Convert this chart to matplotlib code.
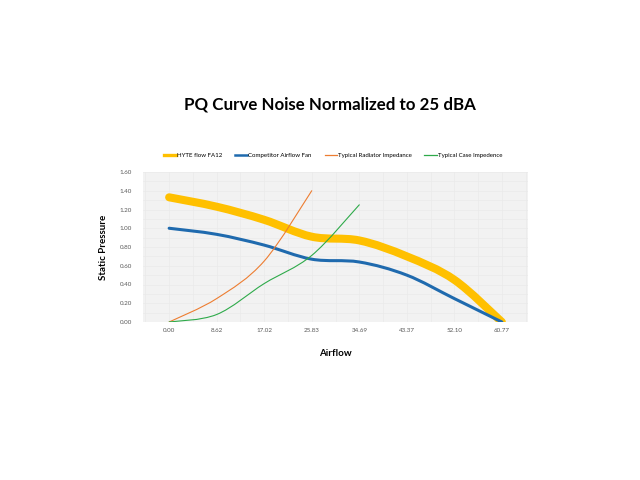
import matplotlib
matplotlib.use("Agg")
import matplotlib.pyplot as plt
from matplotlib.path import Path
from matplotlib.patches import PathPatch
from matplotlib.lines import Line2D
import numpy as np

plt.rcParams['font.family'] = ['Lato', 'DejaVu Sans']

categories = ["0.00", "8.62", "17.02", "25.83", "34.69", "43.37", "52.10", "60.77"]
hyte = [1.33, 1.23, 1.09, 0.91, 0.87, 0.70, 0.45, 0.00]
competitor = [1.00, 0.935, 0.82, 0.67, 0.64, 0.50, 0.25, 0.00]
radiator = [0.00, 0.25, 0.65, 1.40]
case = [0.00, 0.08, 0.41, 0.71, 1.25]

names = ["HYTE flow FA12", "Competitor Airflow Fan", "Typical Radiator Impedance", "Typical Case Impedence"]
colors = ["#FFC000", "#1F6AAE", "#ED7D31", "#2EAA4A"]
widths = [5.8, 2.2, 0.8, 0.8]


def smooth_path(xs, ys):
    pts = np.column_stack([xs, ys]).astype(float)
    n = len(pts)
    verts = [pts[0]]
    codes = [Path.MOVETO]
    for i in range(n - 1):
        p0 = pts[i - 1] if i > 0 else pts[i]
        p1 = pts[i]
        p2 = pts[i + 1]
        p3 = pts[i + 2] if i + 2 < n else pts[i + 1]
        c1 = p1 + (p2 - p0) / 6.0
        c2 = p2 - (p3 - p1) / 6.0
        verts += [c1, c2, p2]
        codes += [Path.CURVE4] * 3
    return Path(verts, codes)


fig = plt.figure(figsize=(6.4, 4.8), dpi=100)
ax = fig.add_axes([143 / 640, 1 - 322 / 480, (528 - 143) / 640, 150 / 480])
ax.set_facecolor("#F2F2F2")

series = [hyte, competitor, radiator, case]
for vals, c, w in zip(series, colors, widths):
    xs = np.arange(len(vals))
    p = smooth_path(xs, vals)
    ax.add_patch(PathPatch(p, facecolor="none", edgecolor=c, lw=w,
                           capstyle="round", joinstyle="round", zorder=3))

ax.set_xlim(-0.55, len(categories) - 0.45)
ax.set_ylim(0, 1.6)
ax.set_xticks(range(len(categories)))
ax.set_xticklabels(categories)
yt = np.arange(0, 1.61, 0.2)
ax.set_yticks(yt)
ax.set_yticklabels([f"{v:.2f}" for v in yt])
ax.set_xticks(np.arange(-0.5, len(categories), 0.5), minor=True)
ax.set_yticks(np.arange(0, 1.61, 0.1), minor=True)
ax.grid(True, which="both", color="#EAEAEA", lw=0.5)
ax.set_axisbelow(True)
ax.tick_params(which="both", length=0, labelsize=4.5, labelcolor="#595959")
ax.tick_params(axis="x", pad=4)
ax.tick_params(axis="y", pad=8)
for s in ax.spines.values():
    s.set_visible(False)

ax.set_xlabel("Airflow", fontsize=7, fontweight="bold", labelpad=12)
ax.set_ylabel("Static Pressure", fontsize=7, fontweight="bold", labelpad=8)

fig.text(330 / 640, 1 - 105 / 480, "PQ Curve Noise Normalized to 25 dBA",
         ha="center", va="center", fontsize=12.2, fontweight="bold")

handles = [Line2D([0], [0], color=c, lw=lw) for c, lw in zip(colors, [2.4, 1.8, 0.9, 0.9])]
fig.legend(handles, names, loc="center", bbox_to_anchor=(333 / 640, 1 - 155 / 480),
           ncol=4, frameon=False, fontsize=4.4, handlelength=2.0, handletextpad=0.15,
           columnspacing=2.1)

fig.savefig("out.png", dpi=100, facecolor="white")
